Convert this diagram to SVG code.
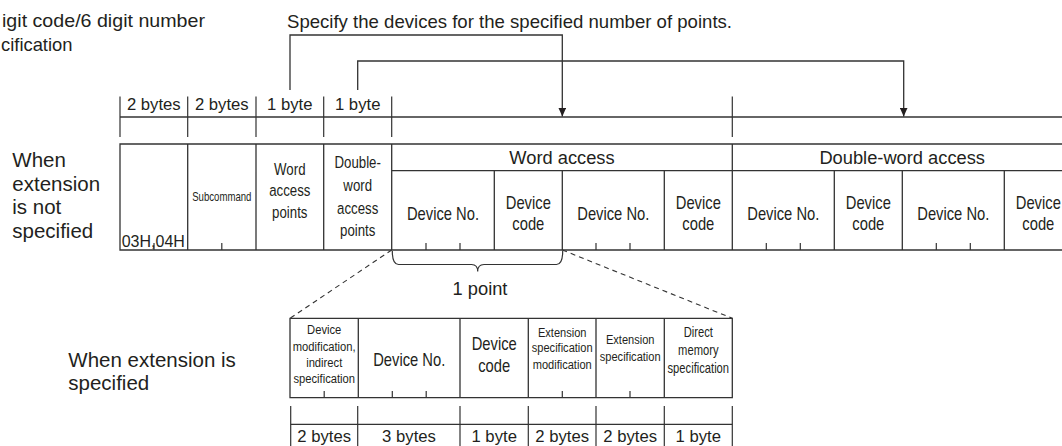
<svg xmlns="http://www.w3.org/2000/svg" width="1062" height="446" viewBox="0 0 1062 446">
<style>
.t{font-family:"Liberation Sans",Arial,Helvetica,sans-serif;fill:#231f20}
.f16{font-size:16.7px}
.f18{font-size:18.3px}
.f20{font-size:20.5px}
.c18{font-size:18px}
.c17{font-size:17px}
.c13{font-size:13.5px}
.c14{font-size:14px}
.m{text-anchor:middle}
.ln{stroke:#333;stroke-width:1.3;fill:none}
.tk{stroke:#333;stroke-width:1.2;fill:none}
.ds{stroke:#333;stroke-width:1.1;fill:none;stroke-dasharray:5 4}
</style>
<defs>
<marker id="ah" markerUnits="userSpaceOnUse" markerWidth="9" markerHeight="8" refX="9" refY="4" orient="auto">
<path d="M0,0 L9,4 L0,8 z" fill="#231f20"/>
</marker>
</defs>
<rect width="1062" height="446" fill="#fff"/>

<g id="notes">
<text class="t" style="font-size:18.6px" x="2" y="27" textLength="203" lengthAdjust="spacingAndGlyphs">igit code/6 digit number</text>
<text class="t" style="font-size:18.6px" x="1" y="51" textLength="71.5" lengthAdjust="spacingAndGlyphs">cification</text>
<text class="t" style="font-size:18.6px" x="287" y="28" textLength="445" lengthAdjust="spacingAndGlyphs">Specify the devices for the specified number of points.</text>
</g>

<g id="label-not-specified">
<text class="t f20" x="12.3"><tspan x="12.3" y="167">When</tspan><tspan x="12.3" y="190.5">extension</tspan><tspan x="12.3" y="214">is not</tspan><tspan x="12.3" y="237.5">specified</tspan></text>
</g>
<g id="label-specified">
<text class="t f20" x="68.3"><tspan x="68.3" y="367">When extension is</tspan><tspan x="68.3" y="389.5">specified</tspan></text>
</g>

<g id="byte-row-top">
<path class="ln" d="M120,117 H1062"/>
<path class="tk" d="M120,96.5 V137 M187.7,96.5 V137 M256,96.5 V137 M323.7,96.5 V137 M391.7,96.5 V137 M732.3,96.5 V137"/>
<text class="t f16 m" x="153.8" y="110">2 bytes</text>
<text class="t f16 m" x="221.8" y="110">2 bytes</text>
<text class="t f16 m" x="289.8" y="110">1 byte</text>
<text class="t f16 m" x="357.7" y="110">1 byte</text>
</g>

<g id="main-table">
<path class="ln" d="M1062,144 H120 V250 H1062 M187.7,144 V250 M256,144 V250 M323.7,144 V250 M391.7,144 V250 M732.3,144 V250 M391.7,170.7 H1062 M494.3,170.7 V250 M562.3,170.7 V250 M664.3,170.7 V250 M834.3,170.7 V250 M902.3,170.7 V250 M1004.3,170.7 V250"/>
<g id="cell-command">
<path class="tk" d="M154,243 V250"/>
<text class="t" style="font-size:16px" x="121.7" y="247">03H,04H</text>
</g>
<g id="cell-subcommand">
<path class="tk" d="M221.8,243 V250"/>
<text class="t m" style="font-size:13px" transform="translate(221.8 0) scale(.74 1)" x="0" y="201">Subcommand</text>
</g>
<g id="cell-word-points">
<text class="t c17 m" transform="translate(289.8 0) scale(.78 1)"><tspan x="0" y="175">Word</tspan><tspan x="0" y="196.5">access</tspan><tspan x="0" y="218">points</tspan></text>
</g>
<g id="cell-dword-points">
<text class="t c17 m" transform="translate(357.7 0) scale(.78 1)"><tspan x="0" y="168.5">Double-</tspan><tspan x="0" y="191.5">word</tspan><tspan x="0" y="214">access</tspan><tspan x="0" y="236.5">points</tspan></text>
</g>
<g id="hdr-word">
<text class="t f18 m" x="562" y="164">Word access</text>
</g>
<g id="hdr-dword">
<text class="t f18 m" x="902.2" y="164">Double-word access</text>
</g>
<g id="w-devno-1">
<path class="tk" d="M426,243 V250 M460,243 V250"/>
<text class="t c18 m" transform="translate(443 0) scale(.82 1)" x="0" y="220">Device No.</text>
</g>
<g id="w-devcode-1">
<text class="t c18 m" transform="translate(528.3 0) scale(.82 1)"><tspan x="0" y="209">Device</tspan><tspan x="0" y="230">code</tspan></text>
</g>
<g id="w-devno-2">
<path class="tk" d="M596,243 V250 M630,243 V250"/>
<text class="t c18 m" transform="translate(613.3 0) scale(.82 1)" x="0" y="220">Device No.</text>
</g>
<g id="w-devcode-2">
<text class="t c18 m" transform="translate(698.3 0) scale(.82 1)"><tspan x="0" y="209">Device</tspan><tspan x="0" y="230">code</tspan></text>
</g>
<g id="d-devno-1">
<path class="tk" d="M766.3,243 V250 M800.3,243 V250"/>
<text class="t c18 m" transform="translate(783.3 0) scale(.82 1)" x="0" y="220">Device No.</text>
</g>
<g id="d-devcode-1">
<text class="t c18 m" transform="translate(868.3 0) scale(.82 1)"><tspan x="0" y="209">Device</tspan><tspan x="0" y="230">code</tspan></text>
</g>
<g id="d-devno-2">
<path class="tk" d="M936.3,243 V250 M970.3,243 V250"/>
<text class="t c18 m" transform="translate(953.3 0) scale(.82 1)" x="0" y="220">Device No.</text>
</g>
<g id="d-devcode-2">
<text class="t c18 m" transform="translate(1038.3 0) scale(.82 1)"><tspan x="0" y="209">Device</tspan><tspan x="0" y="230">code</tspan></text>
</g>
</g>

<g id="one-point">
<path class="tk" d="M392.3,251 Q392.3,264.5 398.5,264.5 H471.5 Q477.7,264.5 477.7,271.5 Q477.7,264.5 484,264.5 H556.5 Q562.7,264.5 562.7,251"/>
<text class="t f18 m" x="480" y="295">1 point</text>
</g>

<g id="ext-table">
<path class="ln" d="M290,318.3 H732.3 V397.7 H290 Z M358.3,318.3 V397.7 M460,318.3 V397.7 M528.3,318.3 V397.7 M596,318.3 V397.7 M664.3,318.3 V397.7"/>
<g id="e-mod">
<path class="tk" d="M324.2,391 V397.7"/>
<text class="t c13 m" transform="translate(324.2 0) scale(.83 1)"><tspan x="0" y="334">Device</tspan><tspan x="0" y="350.7">modification,</tspan><tspan x="0" y="367">indirect</tspan><tspan x="0" y="383.3">specification</tspan></text>
</g>
<g id="e-devno">
<path class="tk" d="M392.3,391 V397.7 M426.2,391 V397.7"/>
<text class="t c18 m" transform="translate(409.2 0) scale(.82 1)" x="0" y="365.7">Device No.</text>
</g>
<g id="e-devcode">
<text class="t c18 m" transform="translate(494.2 0) scale(.82 1)"><tspan x="0" y="350">Device</tspan><tspan x="0" y="371.7">code</tspan></text>
</g>
<g id="e-extmod">
<path class="tk" d="M562.3,391 V397.7"/>
<text class="t c13 m" transform="translate(562.2 0) scale(.82 1)"><tspan x="0" y="336.7">Extension</tspan><tspan x="0" y="352.5">specification</tspan><tspan x="0" y="368.7">modification</tspan></text>
</g>
<g id="e-ext">
<path class="tk" d="M630,391 V397.7"/>
<text class="t c13 m" transform="translate(630.2 0) scale(.82 1)"><tspan x="0" y="344">Extension</tspan><tspan x="0" y="360.7">specification</tspan></text>
</g>
<g id="e-direct">
<text class="t c14 m" transform="translate(698.3 0) scale(.8 1)"><tspan x="0" y="336.7">Direct</tspan><tspan x="0" y="354.7">memory</tspan><tspan x="0" y="372.7">specification</tspan></text>
</g>
</g>

<g id="byte-row-bottom">
<path class="ln" d="M290.7,424.3 H732.3"/>
<path class="tk" d="M290.7,406 V446 M357.7,406 V446 M460,406 V446 M528.3,406 V446 M596,406 V446 M664.3,406 V446 M732.3,406 V446"/>
<text class="t f16 m" x="324.2" y="442">2 bytes</text>
<text class="t f16 m" x="409" y="442">3 bytes</text>
<text class="t f16 m" x="494.2" y="442">1 byte</text>
<text class="t f16 m" x="562.2" y="442">2 bytes</text>
<text class="t f16 m" x="630.2" y="442">2 bytes</text>
<text class="t f16 m" x="698.3" y="442">1 byte</text>
</g>

<g id="connectors">
<path class="ln" d="M290,90 V35 H562.3 V116.5" marker-end="url(#ah)"/>
<path class="ln" d="M357.7,90 V61 H903.7 V116.5" marker-end="url(#ah)"/>
<path class="ds" d="M391.7,250 L290,318.3"/>
<path class="ds" d="M562.3,250 L732.3,318.3"/>
</g>
</svg>
